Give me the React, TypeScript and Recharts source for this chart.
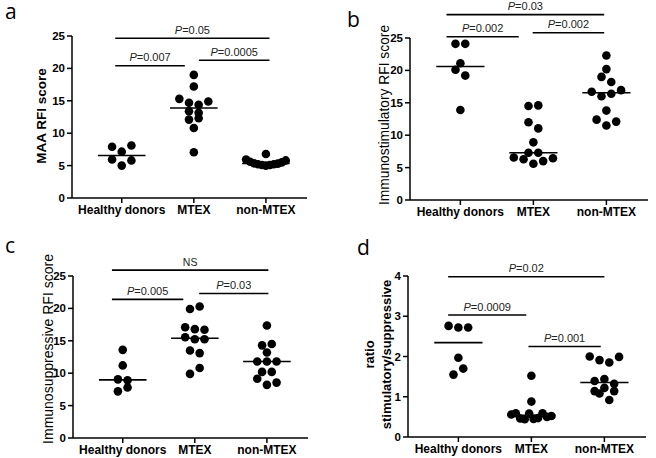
import React from "react";
import { ScatterChart, Scatter, XAxis, YAxis, ReferenceLine } from "recharts";

const groups = ["Healthy donors", "MTEX", "non-MTEX"];

// a - MAA RFI score
const maaHealthy = [7.9, 7.15, 8.1, 5.95, 5.0, 5.8];
const maaMtex = [19.0, 17.2, 15.3, 14.7, 14.4, 14.9, 13.4, 13.15, 12.1, 12.3, 10.8, 7.05];
const maaNonMtex = [6.8, 5.95, 5.6, 5.35, 5.2, 5.1, 5.0, 5.1, 5.2, 5.3, 5.5, 5.8];

// b - immunostimulatory RFI score
const stimHealthy = [24.1, 24.1, 21.1, 20.1, 19.2, 13.9];
const stimMtex = [14.5, 14.6, 12.0, 11.05, 8.9, 7.3, 7.3, 6.55, 6.3, 5.6, 6.0, 6.45];
const stimNonMtex = [22.3, 20.2, 19.0, 18.2, 16.7, 16.0, 16.4, 16.95, 13.8, 12.4, 11.5, 12.1];

// c - immunosuppressive RFI score
const suppHealthy = [13.6, 11.2, 9.05, 8.9, 7.2, 7.8];
const suppMtex = [19.9, 20.3, 17.1, 16.8, 16.7, 15.55, 15.25, 15.25, 13.5, 13.1, 9.9, 10.8];
const suppNonMtex = [17.35, 14.3, 14.5, 13.2, 11.8, 11.8, 11.8, 10.2, 10.2, 9.15, 8.2, 8.55];

// d - ratio stimulatory/suppressive
const ratioHealthy = [2.76, 2.72, 2.72, 1.97, 1.55, 1.7];
const ratioMtex = [1.52, 0.88, 0.56, 0.59, 0.46, 0.44, 0.58, 0.45, 0.47, 0.59, 0.5, 0.52];
const ratioNonMtex = [2.0, 1.91, 1.85, 1.99, 1.39, 1.44, 1.32, 1.14, 1.22, 1.14, 1.08, 0.92];

// significance bars: group span and level, p value text
const sigA = [
  { x1: -0.09, x2: 0.875, y: 20.4, p: "0.007" },
  { x1: 1.07, x2: 2.05, y: 21.25, p: "0.0005" },
  { x1: -0.09, x2: 2.05, y: 24.65, p: "0.05" },
];
const sigB = [
  { x1: -0.19, x2: 0.8, y: 25.2, p: "0.002" },
  { x1: 0.99, x2: 1.97, y: 25.8, p: "0.002" },
  { x1: -0.19, x2: 1.97, y: 28.6, p: "0.03" },
];
const sigC = [
  { x1: -0.15, x2: 0.84, y: 21.4, p: "0.005" },
  { x1: 1.06, x2: 2.02, y: 22.3, p: "0.03" },
  { x1: -0.15, x2: 2.02, y: 25.9, p: "NS" },
];
const sigD = [
  { x1: -0.14, x2: 0.93, y: 3.03, p: "0.0009" },
  { x1: 0.96, x2: 1.95, y: 2.25, p: "0.001" },
  { x1: -0.14, x2: 2.0, y: 3.98, p: "0.02" },
];

const median = (vals: number[]) => {
  const s = [...vals].sort((a, b) => a - b);
  const m = Math.floor(s.length / 2);
  return s.length % 2 ? s[m] : (s[m - 1] + s[m]) / 2;
};

// GraphPad-like column scatter: points with close values share a row
const swarm = (vals: number[], g: number, tol: number) => {
  const order = vals.map((_, i) => i).sort((a, b) => vals[a] - vals[b]);
  const rows: number[][] = [];
  let cur: number[] = [];
  let start = 0;
  for (const i of order) {
    if (cur.length && vals[i] - start <= tol + 1e-9) cur.push(i);
    else {
      if (cur.length) rows.push(cur);
      cur = [i];
      start = vals[i];
    }
  }
  if (cur.length) rows.push(cur);
  const pts: { x: number; y: number }[] = [];
  rows.forEach((row) => {
    row.sort((a, b) => a - b);
    const n = row.length;
    const step = n > 1 ? Math.min(0.134, 0.55 / (n - 1)) : 0;
    row.forEach((i, k) => pts.push({ x: g + (k - (n - 1) / 2) * step, y: vals[i] }));
  });
  return pts;
};

const PLabel = (props: any) => {
  const { viewBox, p } = props;
  const cx = viewBox.x + viewBox.width / 2;
  return (
    <text x={cx} y={viewBox.y - 4.5} textAnchor="middle" fontSize={p === "NS" ? 10.5 : 11} fill="#222">
      {p === "NS" ? "NS" : (
        <>
          <tspan fontStyle="italic">P</tspan>
          <tspan>{"=" + p}</tspan>
        </>
      )}
    </text>
  );
};

const YTitle = (props: any) => {
  const { viewBox, lines, bold, dx, dy, lh, fs } = props;
  const cx = viewBox.x + dx;
  const cy = viewBox.y + viewBox.height / 2 + dy;
  return (
    <text
      transform={`translate(${cx},${cy}) rotate(-90)`}
      textAnchor="middle"
      fontSize={fs}
      fontWeight={bold ? 700 : 400}
      fill="#000"
    >
      {lines.map((l: string, i: number) => (
        <tspan key={i} x={0} y={(i - (lines.length - 1) / 2) * lh} dy="0.35em">
          {l}
        </tspan>
      ))}
    </text>
  );
};

const panels = [
  {
    left: 0, top: 0, margin: { top: 36, right: 21, bottom: 0, left: 0 }, yw: 72, xh: 31,
    yMax: 25, yTicks: [0, 5, 10, 15, 20, 25], title: ["MAA RFI score"], bold: true, fs: 13.5, tdx: 41.7, tdy: -1, lh: 0,
    series: [maaHealthy, maaMtex, maaNonMtex], sig: sigA,
  },
  {
    left: 328, top: 0, margin: { top: 38, right: 8, bottom: 0, left: 0 }, yw: 82, xh: 29,
    yMax: 25, yTicks: [0, 5, 10, 15, 20, 25], title: ["Immunostimulatory RFI score"], bold: false, fs: 13.8, tdx: 56, tdy: -4, lh: 0,
    series: [stimHealthy, stimMtex, stimNonMtex], sig: sigB,
  },
  {
    left: 0, top: 229, margin: { top: 47, right: 20, bottom: 0, left: 0 }, yw: 73, xh: 20,
    yMax: 25, yTicks: [0, 5, 10, 15, 20, 25], title: ["Immunosuppressive RFI score"], bold: false, fs: 14, tdx: 48, tdy: -8, lh: 0,
    series: [suppHealthy, suppMtex, suppNonMtex], sig: sigC,
  },
  {
    left: 328, top: 229, margin: { top: 47, right: 10, bottom: 0, left: 0 }, yw: 80, xh: 21,
    yMax: 4, yTicks: [0, 1, 2, 3, 4], title: ["ratio", "stimulatory/suppressive"], bold: true, fs: 13, tdx: 49.5, tdy: -2, lh: 17,
    series: [ratioHealthy, ratioMtex, ratioNonMtex], sig: sigD,
  },
];

const letters = [
  { t: "a", x: 5, y: 19 },
  { t: "b", x: 347, y: 27 },
  { t: "c", x: 5, y: 253 },
  { t: "d", x: 357, y: 255 },
];

const axisStroke = { stroke: "#000", strokeWidth: 1.5 };

export default function App() {
  return (
    <div
      style={{
        position: "absolute", left: 0, top: 0, width: 656, height: 458, background: "#fff",
        fontFamily: '"Liberation Sans", Arial, sans-serif',
      }}
    >
      {panels.map((pn, pi) => (
        <div key={pi} style={{ position: "absolute", left: pn.left, top: pn.top }}>
          <ScatterChart width={328} height={229} margin={pn.margin}>
            <XAxis
              type="number"
              dataKey="x"
              domain={[-0.69, 2.57]}
              allowDataOverflow
              ticks={[0, 1, 2]}
              interval={0}
              tickFormatter={(v) => groups[v]}
              height={pn.xh}
              axisLine={axisStroke}
              tickLine={axisStroke}
              tickSize={5}
              tickMargin={2}
              tick={{ fontSize: 12, fontWeight: 700, fill: "#000" }}
            />
            <YAxis
              type="number"
              dataKey="y"
              domain={[0, pn.yMax]}
              allowDataOverflow
              ticks={pn.yTicks}
              interval={0}
              width={pn.yw}
              axisLine={axisStroke}
              tickLine={axisStroke}
              tickSize={5}
              tickMargin={2}
              tick={{ fontSize: 11.5, fontWeight: 700, fill: "#000" }}
              label={<YTitle lines={pn.title} bold={pn.bold} fs={pn.fs} dx={pn.tdx} dy={pn.tdy} lh={pn.lh} />}
            />
            {pn.series.map((vals, g) => (
              <Scatter
                key={g}
                data={swarm(vals, g, pn.yMax * 0.04)}
                isAnimationActive={false}
                shape={(p: any) => <circle cx={p.cx} cy={p.cy} r={4.3} fill="#000" />}
              />
            ))}
            {pn.series.map((vals, g) => (
              <ReferenceLine
                key={"m" + g}
                segment={[
                  { x: g - 0.33, y: median(vals) },
                  { x: g + 0.33, y: median(vals) },
                ]}
                stroke="#000"
                strokeWidth={1.6}
                ifOverflow="visible"
              />
            ))}
            {pn.sig.map((s, i) => (
              <ReferenceLine
                key={"s" + i}
                segment={[
                  { x: s.x1, y: s.y },
                  { x: s.x2, y: s.y },
                ]}
                stroke="#000"
                strokeWidth={1.6}
                ifOverflow="visible"
                label={<PLabel p={s.p} />}
              />
            ))}
          </ScatterChart>
        </div>
      ))}
      <svg width={656} height={458} style={{ position: "absolute", left: 0, top: 0, pointerEvents: "none" }}>
        {letters.map((l) => (
          <text key={l.t} x={l.x} y={l.y} fontSize={21} fontFamily='"Open Sans", sans-serif' fill="#000">
            {l.t}
          </text>
        ))}
      </svg>
    </div>
  );
}
